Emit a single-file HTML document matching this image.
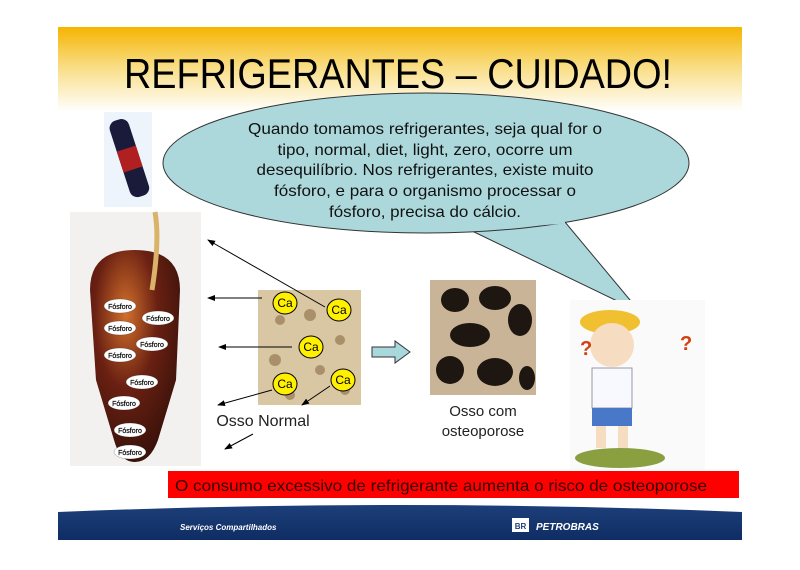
<!DOCTYPE html>
<html><head><meta charset="utf-8"><style>
body{margin:0;background:#fff;width:800px;height:565px;overflow:hidden;font-family:"Liberation Sans",sans-serif}
</style></head><body>
<svg width="800" height="565" viewBox="0 0 800 565" xmlns="http://www.w3.org/2000/svg" font-family="Liberation Sans, sans-serif">
<defs>
<linearGradient id="hd" x1="0" y1="0" x2="0" y2="1">
<stop offset="0" stop-color="#f5b400"/><stop offset="0.45" stop-color="#f9dc80"/><stop offset="1" stop-color="#ffffff"/>
</linearGradient>
<linearGradient id="ft" x1="0" y1="0" x2="0" y2="1">
<stop offset="0" stop-color="#1d3f7a"/><stop offset="1" stop-color="#0f2d64"/>
</linearGradient>
<radialGradient id="cola" cx="0.4" cy="0.3" r="0.7">
<stop offset="0" stop-color="#d2702c"/><stop offset="0.5" stop-color="#6a2012"/><stop offset="1" stop-color="#3a120a"/>
</radialGradient>
<marker id="ar" markerWidth="8" markerHeight="8" refX="7" refY="4" orient="auto"><path d="M0,1 L8,4 L0,7 z" fill="#000"/></marker>
</defs>
<rect x="58" y="27" width="684" height="85" fill="url(#hd)"/>
<text x="124" y="88" font-size="42" textLength="548" lengthAdjust="spacingAndGlyphs" fill="#000">REFRIGERANTES – CUIDADO!</text>
<!-- bottle -->
<rect x="104" y="112" width="48" height="95" fill="#eef4fb"/>
<g transform="rotate(-18 130 160)"><rect x="120" y="118" width="20" height="80" rx="8" fill="#1a1a3a"/><rect x="120" y="148" width="20" height="22" fill="#b02020"/></g>
<!-- glass -->
<rect x="70" y="212" width="131" height="254" fill="#f2f1ef"/>
<path d="M90,290 Q90,250 135,250 Q180,250 180,290 L176,380 L158,440 Q150,462 135,462 Q120,462 114,440 L96,380 Z" fill="url(#cola)"/>
<path d="M155,212 Q160,240 152,290" stroke="#d9b36a" stroke-width="5" fill="none"/>
<g font-size="7" text-anchor="middle" fill="#000" stroke="#000" stroke-width="0.2">
<g fill="#fff"><ellipse cx="120" cy="306" rx="16" ry="7"/><ellipse cx="158" cy="318" rx="16" ry="7"/><ellipse cx="120" cy="328" rx="16" ry="7"/><ellipse cx="152" cy="344" rx="16" ry="7"/><ellipse cx="120" cy="355" rx="16" ry="7"/><ellipse cx="142" cy="382" rx="16" ry="7"/><ellipse cx="124" cy="403" rx="16" ry="7"/><ellipse cx="130" cy="430" rx="16" ry="7"/><ellipse cx="130" cy="452" rx="16" ry="7"/></g>
<text x="120" y="309">Fósforo</text><text x="158" y="321">Fósforo</text><text x="120" y="331">Fósforo</text><text x="152" y="347">Fósforo</text><text x="120" y="358">Fósforo</text><text x="142" y="385">Fósforo</text><text x="124" y="406">Fósforo</text><text x="130" y="433">Fósforo</text><text x="130" y="455">Fósforo</text>
</g>
<!-- bubble -->
<path d="M470,230 L640,312 L565,222 Z" fill="#acd8dc" stroke="#333" stroke-width="1"/>
<ellipse cx="426" cy="163" rx="263" ry="70" fill="#acd8dc" stroke="#333" stroke-width="1"/>
<path d="M471,229 L565,222" stroke="#acd8dc" stroke-width="3"/>
<g font-size="16" text-anchor="middle" fill="#111">
<text x="425" y="134" textLength="354" lengthAdjust="spacingAndGlyphs">Quando tomamos refrigerantes, seja qual for o</text>
<text x="425" y="155" textLength="295" lengthAdjust="spacingAndGlyphs">tipo, normal, diet, light, zero, ocorre um</text>
<text x="425" y="175" textLength="337" lengthAdjust="spacingAndGlyphs">desequilíbrio. Nos refrigerantes, existe muito</text>
<text x="425" y="196" textLength="302" lengthAdjust="spacingAndGlyphs">fósforo, e para o organismo processar o</text>
<text x="425" y="217" textLength="192" lengthAdjust="spacingAndGlyphs">fósforo, precisa do cálcio.</text>
</g>
<!-- bone normal -->
<rect x="258" y="290" width="103" height="115" fill="#d9c7a4"/>
<g fill="#8a6a45" opacity="0.6"><circle cx="280" cy="320" r="5"/><circle cx="310" cy="315" r="6"/><circle cx="340" cy="340" r="5"/><circle cx="275" cy="360" r="6"/><circle cx="320" cy="370" r="5"/><circle cx="345" cy="390" r="5"/><circle cx="290" cy="395" r="5"/></g>
<g stroke="#000" stroke-width="1" fill="none" marker-end="url(#ar)">
<line x1="325" y1="307" x2="208" y2="240"/>
<line x1="262" y1="298" x2="208" y2="298"/>
<line x1="292" y1="347" x2="219" y2="347"/>
<line x1="272" y1="390" x2="218" y2="405"/>
<line x1="253" y1="434" x2="225" y2="449"/>
<line x1="330" y1="386" x2="302" y2="405"/>
</g>
<g fill="#ffef00" stroke="#000" stroke-width="1"><ellipse cx="285" cy="303" rx="12" ry="11"/><ellipse cx="339" cy="310" rx="12" ry="11"/><ellipse cx="311" cy="347" rx="12" ry="11"/><ellipse cx="285" cy="384" rx="12" ry="11"/><ellipse cx="343" cy="380" rx="12" ry="11"/></g>
<g font-size="12" text-anchor="middle"><text x="285" y="307">Ca</text><text x="339" y="314">Ca</text><text x="311" y="351">Ca</text><text x="285" y="388">Ca</text><text x="343" y="384">Ca</text></g>
<text x="263" y="426" font-size="16" text-anchor="middle" fill="#222">Osso Normal</text>
<!-- block arrow -->
<path d="M372,347 L395,347 L395,341 L410,352 L395,363 L395,357 L372,357 Z" fill="#a8d8dc" stroke="#333" stroke-width="1"/>
<!-- osteoporosis bone -->
<rect x="430" y="280" width="106" height="115" fill="#c9b497"/>
<g fill="#1e1610"><ellipse cx="455" cy="300" rx="14" ry="12"/><ellipse cx="495" cy="298" rx="16" ry="12"/><ellipse cx="520" cy="320" rx="12" ry="16"/><ellipse cx="470" cy="335" rx="20" ry="12"/><ellipse cx="450" cy="370" rx="14" ry="14"/><ellipse cx="495" cy="372" rx="18" ry="14"/><ellipse cx="527" cy="378" rx="8" ry="12"/></g>
<text x="483" y="416" font-size="15" text-anchor="middle" fill="#222">Osso com</text>
<text x="483" y="436" font-size="15" text-anchor="middle" fill="#222">osteoporose</text>
<!-- kid -->
<rect x="570" y="300" width="135" height="170" fill="#fafafa"/>
<ellipse cx="610" cy="322" rx="30" ry="12" fill="#f0c030"/>
<circle cx="612" cy="345" r="22" fill="#f6dcc0"/>
<rect x="592" y="368" width="40" height="40" fill="#f8f8ff" stroke="#99a" stroke-width="1"/>
<rect x="592" y="408" width="40" height="18" fill="#4a78c8"/>
<rect x="596" y="426" width="10" height="22" fill="#f6dcc0"/><rect x="618" y="426" width="10" height="22" fill="#f6dcc0"/>
<ellipse cx="620" cy="458" rx="45" ry="10" fill="#8aa040"/>
<text x="580" y="355" font-size="20" fill="#d04010" font-weight="bold">?</text><text x="680" y="350" font-size="20" fill="#d04010" font-weight="bold">?</text>
<!-- red bar -->
<rect x="168" y="471" width="571" height="27" fill="#ff0000"/>
<text x="175" y="491" font-size="16" textLength="532" lengthAdjust="spacingAndGlyphs" fill="#330000">O consumo excessivo de refrigerante aumenta o risco de osteoporose</text>
<!-- footer -->
<path d="M58,512 Q400,498 742,512 L742,540 L58,540 Z" fill="url(#ft)"/>
<text x="180" y="530" font-size="8" fill="#fff" font-weight="bold" font-style="italic">Serviços Compartilhados</text>
<rect x="512" y="518" width="17" height="14" fill="#fff"/><text x="520.5" y="529" font-size="8" text-anchor="middle" fill="#1d3f7a" font-weight="bold">BR</text>
<text x="536" y="530" font-size="10" fill="#fff" font-weight="bold" font-style="italic">PETROBRAS</text>
</svg>
</body></html>
